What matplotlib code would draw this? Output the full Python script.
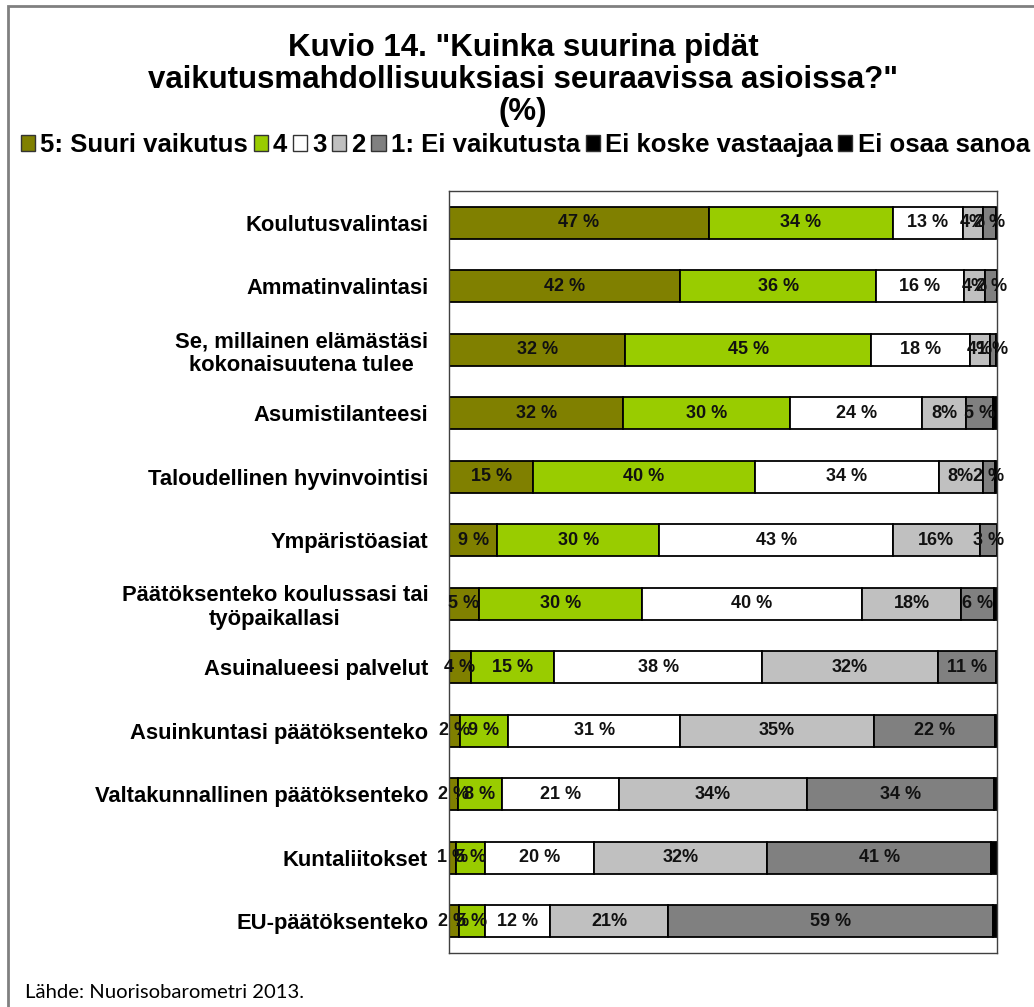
import numpy as np
import matplotlib
matplotlib.use('Agg')
import matplotlib.pyplot as plt
from matplotlib.patches import Rectangle, Patch

plt.rcParams['font.family'] = ['Liberation Sans', 'DejaVu Sans']

# categories, top to bottom
categories = ['Koulutusvalintasi', 'Ammatinvalintasi',
              'Se, millainen elämästäsi\nkokonaisuutena tulee',
              'Asumistilanteesi', 'Taloudellinen hyvinvointisi', 'Ympäristöasiat',
              'Päätöksenteko koulussasi tai\ntyöpaikallasi', 'Asuinalueesi palvelut',
              'Asuinkuntasi päätöksenteko', 'Valtakunnallinen päätöksenteko',
              'Kuntaliitokset', 'EU-päätöksenteko']

series_names = ['5: Suuri vaikutus', '4', '3', '2', '1: Ei vaikutusta',
                'Ei koske vastaajaa', 'Ei osaa sanoa']
colors = ['#808000', '#99CC00', '#FFFFFF', '#C0C0C0', '#808080', '#000000', '#000000']

s5 = [47.4, 42.2, 32.2, 31.8, 15.4, 8.8, 5.4, 4.0, 2.0, 1.6, 1.3, 1.8]
s4 = [33.6, 35.8, 44.9, 30.5, 40.4, 29.6, 29.8, 15.2, 8.8, 8.0, 5.3, 4.8]
s3 = [12.8, 15.9, 17.9, 24.1, 33.6, 42.6, 40.2, 38.0, 31.4, 21.4, 19.9, 11.9]
s2 = [3.7, 4.0, 3.7, 8.0, 8.0, 15.9, 18.1, 32.0, 35.3, 34.4, 31.6, 21.4]
s1 = [2.4, 2.1, 1.1, 4.9, 2.2, 3.1, 5.9, 10.6, 22.1, 34.1, 40.8, 59.4]
ei_koske = [0.0, 0.0, 0.2, 0.7, 0.4, 0.0, 0.6, 0.2, 0.4, 0.5, 1.1, 0.7]
ei_osaa = [0.0] * 12

data = [s5, s4, s3, s2, s1, ei_koske, ei_osaa]

fig = plt.figure(figsize=(10.34, 10.07), dpi=100)
ax = fig.add_axes([0.4342, 0.0536, 0.530, 0.7567])

y = np.arange(len(categories))
left = np.zeros(len(categories))
for i, vals in enumerate(data):
    vals = np.array(vals)
    ax.barh(y, vals, left=left, height=0.5, color=colors[i],
            edgecolor='black', linewidth=1.3)
    if i < 5:
        for yy, l, v in zip(y, left, vals):
            if v <= 0:
                continue
            fmt = '{}%' if i == 3 else '{} %'
            ax.text(l + v / 2, yy, fmt.format(int(round(v))), ha='center',
                    va='center', fontsize=13, fontweight='bold', color='#111111',
                    clip_on=False)
    left += vals

ax.set_xlim(0, 100)
ax.set_ylim(len(categories) - 0.5, -0.5)
ax.set_yticks(y)
ax.set_yticklabels(categories, fontsize=15.8, fontweight='bold', multialignment='center')
ax.tick_params(axis='y', length=0, pad=15)
ax.set_xticks([])
for sp in ax.spines.values():
    sp.set_color('#404040')
    sp.set_linewidth(1)

fig.text(0.506, 0.967, 'Kuvio 14. "Kuinka suurina pidät\nvaikutusmahdollisuuksiasi seuraavissa asioissa?"\n(%)',
         ha='center', va='top', fontsize=22.5, fontweight='bold', linespacing=1.08)

handles = [Patch(facecolor=c, edgecolor='#333333', linewidth=1) for c in colors]
fig.legend(handles, series_names, loc='center left', bbox_to_anchor=(-0.002, 0.856),
           ncol=7, frameon=False, handlelength=0.55, handleheight=0.55,
           handletextpad=0.2, columnspacing=0.22,
           prop={'weight': 'bold', 'size': 18.5})

# outer frame of the original figure
fig.patches.append(Rectangle((0.0077, -0.2), 1.2, 1.194, transform=fig.transFigure,
                             fill=False, edgecolor='#808080', linewidth=2))

fig.text(0.024, 0.014, 'Lähde: Nuorisobarometri 2013.', ha='left', va='center',
         fontsize=14.6, family=['Lato', 'DejaVu Sans'])

fig.savefig('out.png', dpi=100)
